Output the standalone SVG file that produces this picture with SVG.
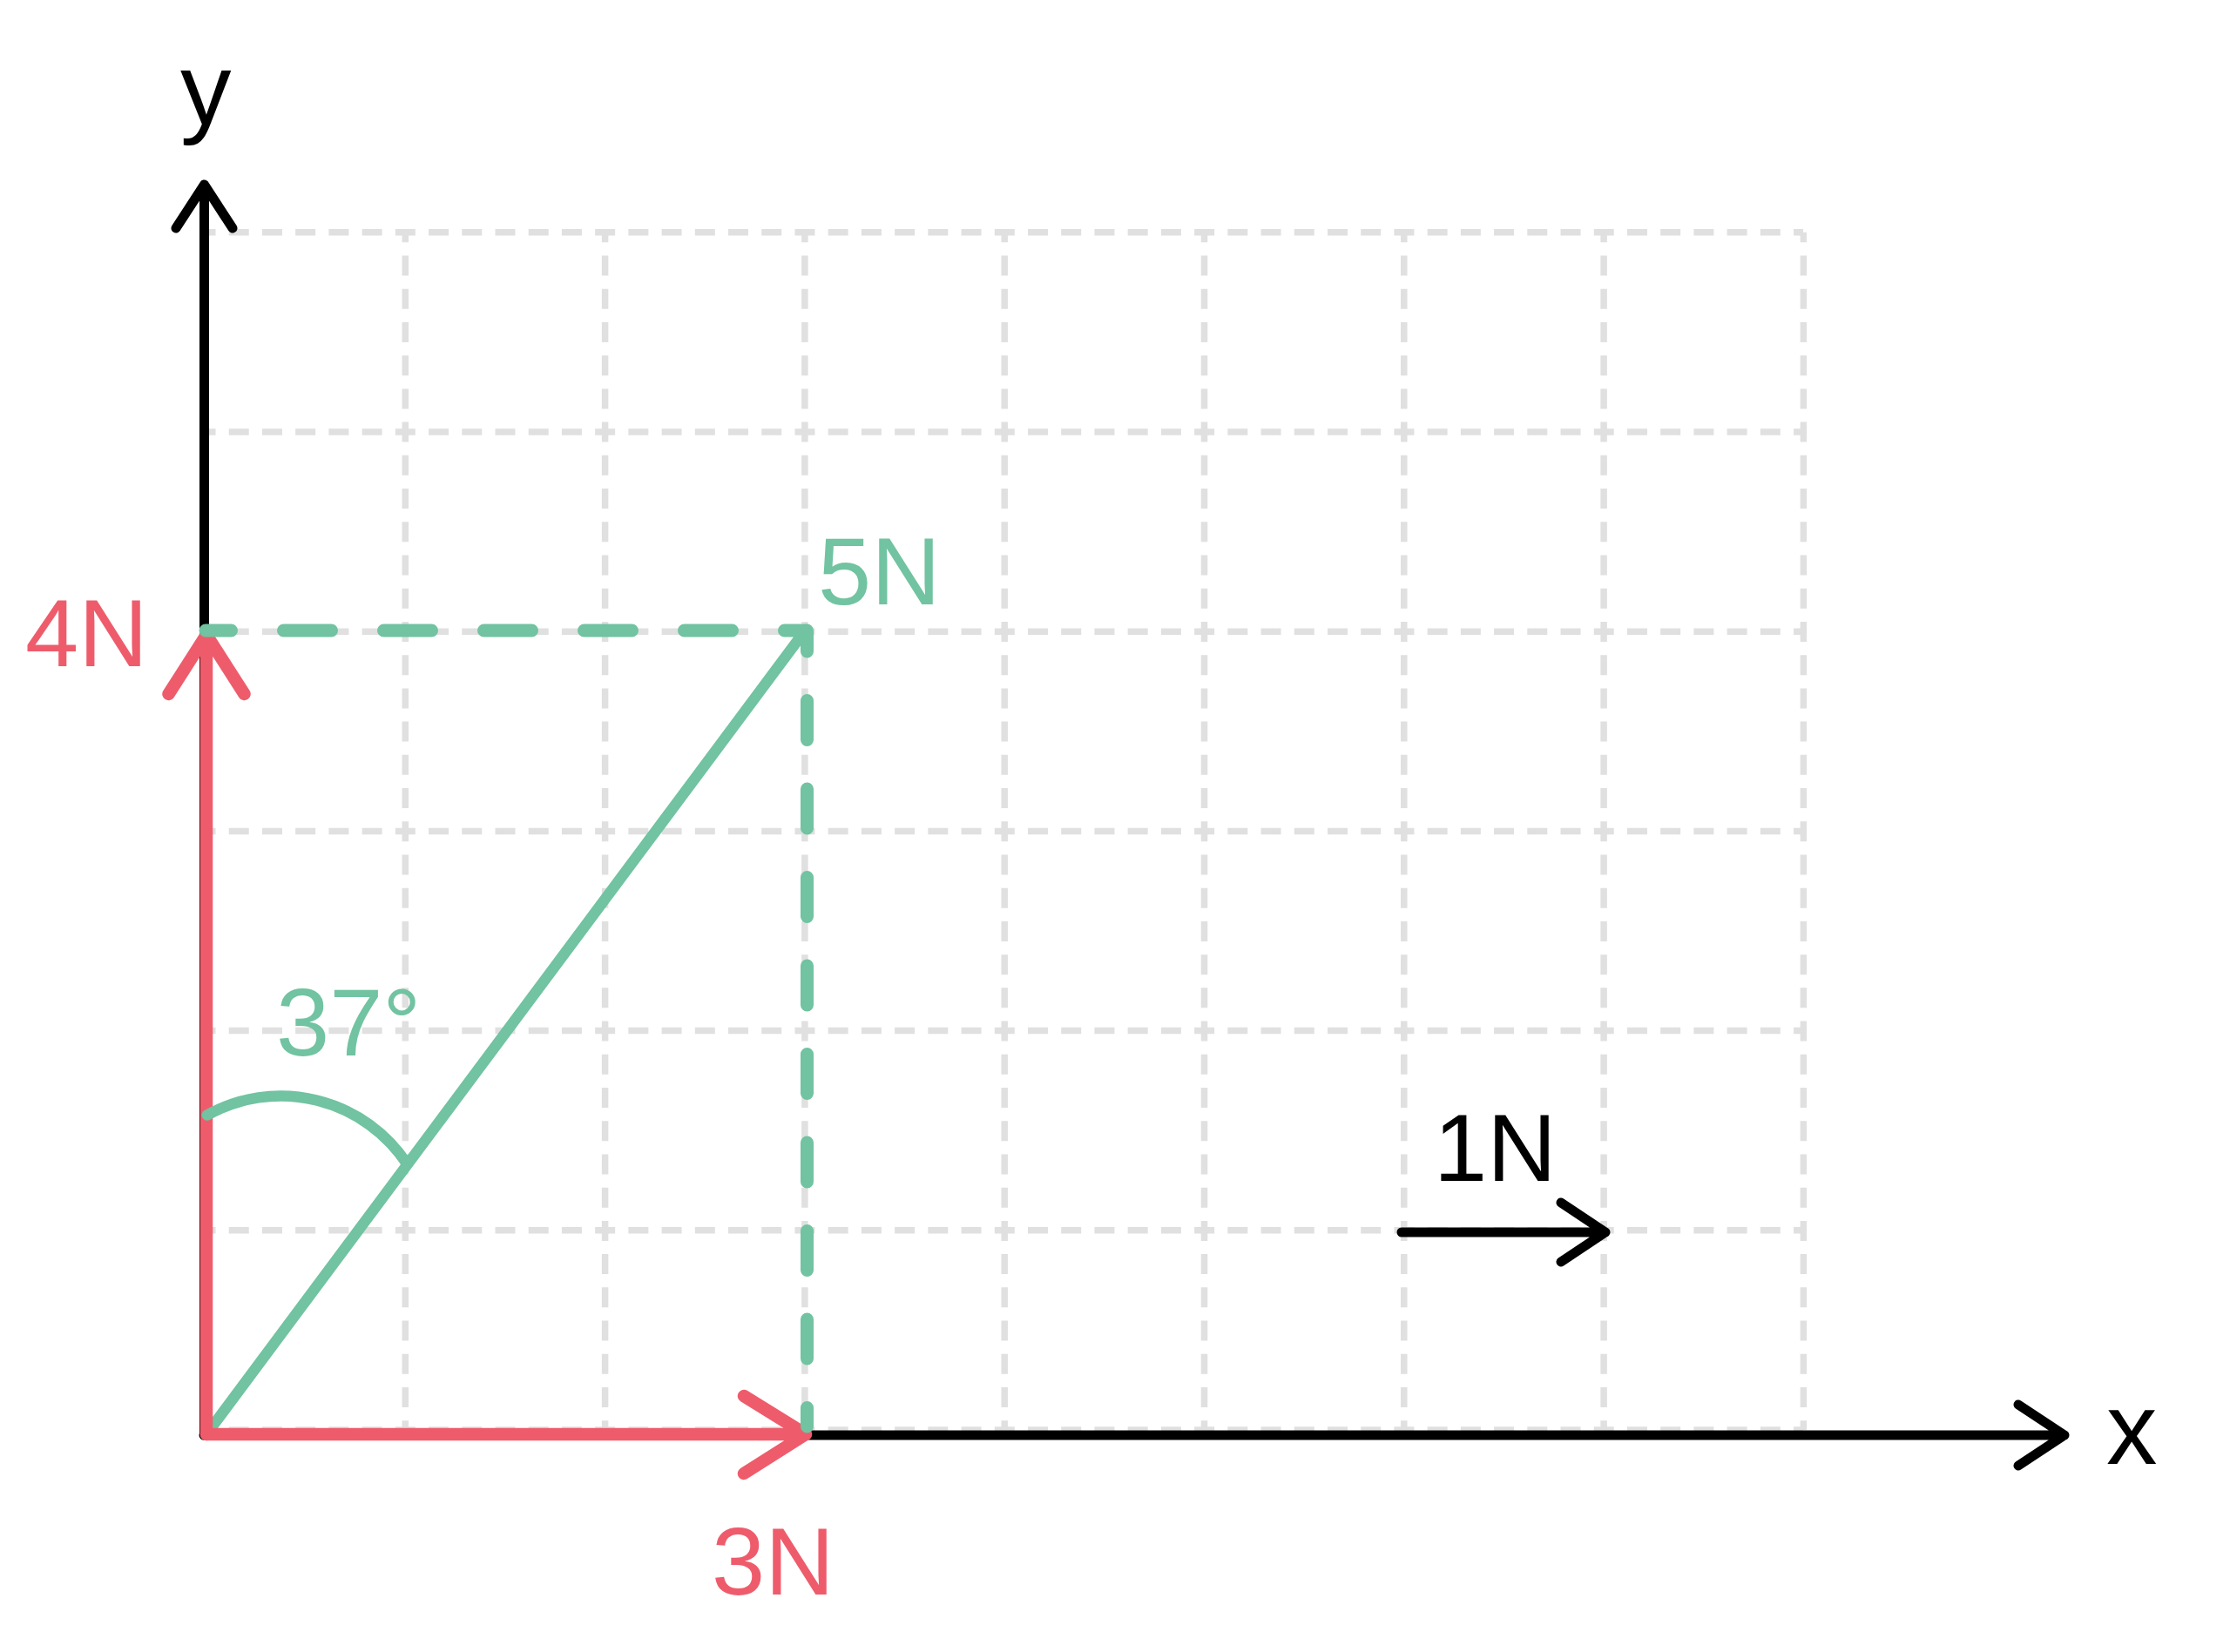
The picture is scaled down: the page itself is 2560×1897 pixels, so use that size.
<svg xmlns="http://www.w3.org/2000/svg" width="2560" height="1897" viewBox="0 0 2560 1897">
<style>
.grid line{stroke:#E0E0E0;stroke-width:7.5;stroke-dasharray:23 15.22;stroke-dashoffset:11.5;fill:none}
.blk{stroke:#000;stroke-width:11;stroke-linecap:round;stroke-linejoin:round;fill:none}
.red{stroke:#EE5C6C;stroke-width:14.5;stroke-linecap:round;stroke-linejoin:round;fill:none}
.grn{stroke:#71C3A1;stroke-width:12.5;stroke-linecap:round;stroke-linejoin:round;fill:none}
.gdash{stroke:#71C3A1;stroke-width:15;stroke-linecap:round;fill:none}
.lbl{font-family:"Liberation Sans",Arial,sans-serif;font-size:110px}
.ax{font-family:"Liberation Sans",Arial,sans-serif;font-size:117px;fill:#000}
</style>
<rect width="2560" height="1897" fill="#fff"/>
<g id="grid" class="grid">
<line x1="236" y1="266.8" x2="2070" y2="266.8"/>
<line x1="236" y1="496" x2="2070" y2="496"/>
<line x1="236" y1="725.2" x2="2070" y2="725.2"/>
<line x1="236" y1="954.4" x2="2070" y2="954.4"/>
<line x1="236" y1="1183.6" x2="2070" y2="1183.6"/>
<line x1="236" y1="1412.8" x2="2070" y2="1412.8"/>
<line x1="236" y1="1642" x2="2070" y2="1642"/>
<line x1="236" y1="266.8" x2="236" y2="1642"/>
<line x1="465.3" y1="266.8" x2="465.3" y2="1642"/>
<line x1="694.6" y1="266.8" x2="694.6" y2="1642"/>
<line x1="923.9" y1="266.8" x2="923.9" y2="1642"/>
<line x1="1153.2" y1="266.8" x2="1153.2" y2="1642"/>
<line x1="1382.5" y1="266.8" x2="1382.5" y2="1642"/>
<line x1="1611.8" y1="266.8" x2="1611.8" y2="1642"/>
<line x1="1841.1" y1="266.8" x2="1841.1" y2="1642"/>
<line x1="2070.4" y1="266.8" x2="2070.4" y2="1642"/>
</g>
<g id="connectors">
<g id="y-axis"><path class="blk" d="M234.5 1648 V212 M202 262 L234.5 212 L267 262"/></g>
<g id="x-axis"><path class="blk" d="M234 1648 H2370 M2317 1613 L2370 1648 L2317 1683"/></g>
<g id="unit-arrow"><path class="blk" d="M1609 1415 H1843 M1792 1381 L1843 1415 L1792 1449"/></g>
<g id="resultant"><path class="grn" d="M237 1647 L925 723"/></g>
<g id="force-4N"><path class="red" d="M237 1647 V729 M193.5 797 L237 729 L280.5 797"/></g>
<g id="force-3N"><path class="red" d="M237 1647 H925 M854 1603 L925 1647 L854 1692"/></g>
<g id="proj-h"><line class="gdash" x1="236" y1="724" x2="925" y2="724" stroke-dasharray="55 60" stroke-dashoffset="25.5"/></g>
<g id="proj-v"><line class="gdash" x1="926.5" y1="724" x2="926.5" y2="1638" stroke-dasharray="45 56.5" stroke-dashoffset="21"/></g>
<g id="angle-arc"><path class="grn" d="M237.8 1280.5 A173.6 173.6 0 0 1 467.3 1336.6"/></g>
</g>
<g id="label-y"><text class="ax" x="207" y="143">y</text></g>
<g id="label-x"><text class="ax" x="2418" y="1681">x</text></g>
<g id="label-1N"><text class="lbl" x="1646" y="1356" fill="#000">1N</text></g>
<g id="label-4N"><text class="lbl" x="29" y="765" fill="#EE5C6C">4N</text></g>
<g id="label-3N"><text class="lbl" x="817" y="1831" fill="#EE5C6C">3N</text></g>
<g id="label-5N"><text class="lbl" x="939" y="694" fill="#71C3A1">5N</text></g>
<g id="label-37"><text class="lbl" x="317" y="1212" fill="#71C3A1">37°</text></g>
</svg>
